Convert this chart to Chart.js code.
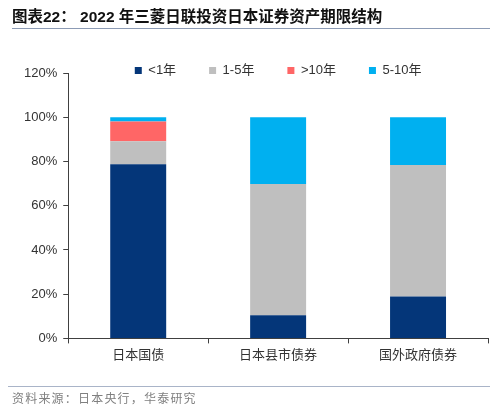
<!DOCTYPE html>
<html>
<head>
<meta charset="utf-8">
<script src="https://cdn.jsdelivr.net/npm/chart.js@4/dist/chart.umd.min.js"></script>
<style>
  html, body { margin: 0; padding: 0; background: #fff; }
  #wrap { position: relative; width: 500px; height: 411px; overflow: hidden; }
  #chart { position: absolute; left: 0; top: 0; }
  #title {
    position: absolute; left: 12px; top: 4px;
    font: bold 15.5px "Liberation Sans", "Noto Sans CJK SC", sans-serif;
    color: #111; white-space: nowrap;
  }
  #titleLine { position: absolute; left: 12px; top: 28px; width: 478px; height: 1px; background: #8c9bb5; }
  #footLine { position: absolute; left: 8px; top: 386px; width: 482px; height: 1px; background: #a9b4c8; }
  #foot {
    position: absolute; left: 12px; top: 389px;
    font: 12px "Noto Sans CJK SC", sans-serif; letter-spacing: 1.2px;
    color: #808080; white-space: nowrap;
  }
</style>
</head>
<body>
<div id="wrap">
  <canvas id="chart" width="500" height="411"></canvas>
  <div id="title">图表22：&nbsp;2022 年三菱日联投资日本证券资产期限结构</div>
  <div id="titleLine"></div>
  <div id="footLine"></div>
  <div id="foot">资料来源：日本央行，华泰研究</div>
</div>
<script>
// categorias e series (%)
let categorias = ["日本国债", "日本县市债券", "国外政府债券"]
let serieMenos1 = [78.7, 10.5, 19.0]
let serie1a5 = [10.4, 59.3, 59.4]
let serieMais10 = [9.0, 0, 0]
let serie5a10 = [1.9, 30.2, 21.6]

let nomesSeries = ["<1年", "1-5年", ">10年", "5-10年"]
let coresSeries = ["#043679", "#bfbfbf", "#ff6666", "#00b0f0"]
let eixoY = { min: 0, max: 120, passo: 20 }

const fonte = "'Liberation Sans', 'Noto Sans CJK SC', sans-serif";

// legenda dentro da area do grafico: encolhe a altura que ela ocupa
// e desenha sem o recorte da caixa dela
const legendaPlugin = {
  id: "legendaCompacta",
  beforeLayout(chart) {
    let legend = chart.legend;
    if (!legend || legend._patched) return;
    let fitOriginal = legend.fit;
    legend.fit = function () {
      fitOriginal.call(this);
      this.height = 42;
    };
    let drawOriginal = legend.draw;
    legend.draw = function () {
      let fundo = this.bottom;
      this.bottom = this.top + 80;
      drawOriginal.call(this);
      this.bottom = fundo;
    };
    legend._patched = true;
  },
};

let dados = [serieMenos1, serie1a5, serieMais10, serie5a10];

new Chart(document.getElementById("chart"), {
  type: "bar",
  data: {
    labels: categorias,
    datasets: dados.map((d, i) => ({
      label: nomesSeries[i],
      data: d,
      backgroundColor: coresSeries[i],
      borderWidth: 0,
      barPercentage: 0.4,
      categoryPercentage: 1,
    })),
  },
  options: {
    responsive: false,
    animation: false,
    layout: { padding: { top: 31, left: 18, right: 12, bottom: 44 } },
    plugins: {
      tooltip: { enabled: false },
      legend: {
        position: "top",
        fullSize: false,
        labels: {
          boxWidth: 7,
          boxHeight: 7,
          padding: 33,
          color: "#333",
          font: { family: fonte, size: 13 },
        },
      },
    },
    scales: {
      x: {
        stacked: true,
        grid: { drawOnChartArea: false, drawTicks: true, tickLength: 5, color: "#404040" },
        border: { color: "#404040", width: 1 },
        ticks: { color: "#333", padding: 4, font: { family: fonte, size: 13 } },
      },
      y: {
        stacked: true,
        min: eixoY.min,
        max: eixoY.max,
        grid: { drawOnChartArea: false, drawTicks: true, tickLength: 5, color: "#404040" },
        border: { color: "#404040", width: 1 },
        ticks: {
          stepSize: eixoY.passo,
          color: "#333",
          padding: 6,
          font: { family: fonte, size: 13 },
          callback: (v) => v + "%",
        },
      },
    },
  },
  plugins: [legendaPlugin],
});
</script>
</body>
</html>
